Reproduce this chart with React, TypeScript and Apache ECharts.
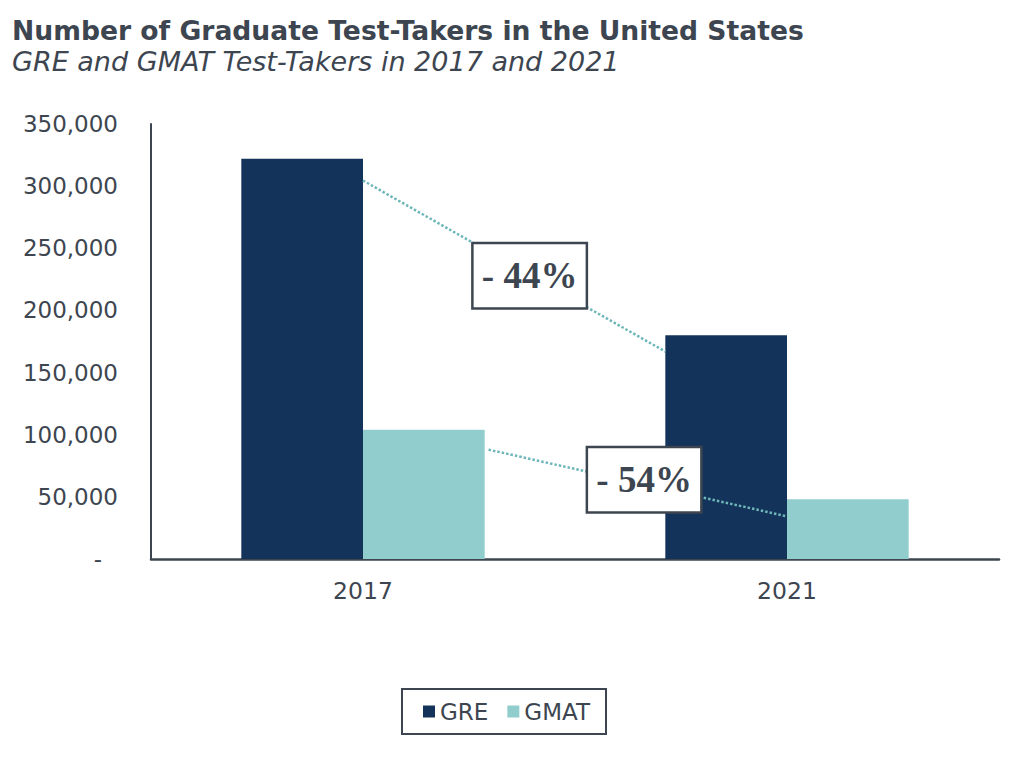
import React, { useEffect, useRef } from "react";
import * as echarts from "echarts";

// ---- Data ----
const categories = ["2017", "2021"];
const seriesNames = ["GRE", "GMAT"];
const greValues = [322000, 180000];
const gmatValues = [104000, 48000];
const changeLabels = ["- 44%", "- 54%"];
const yMin = 0;
const yMax = 350000;
const yInterval = 50000;

// connector anchor values (value-axis units, where the dotted lines meet the bars)
const greConnectorValues = [304500, 166900];
const gmatConnectorValues = [88000, 34300];
// label box anchor values (value-axis units)
const changeLabelValues = [228000, 63800];

// ---- Layout / style ----
const BAR_FRAC = 0.287; // bar width as a fraction of category band
const TEXT = "#3d4650";
const GRE_COLOR = "#14335a";
const GMAT_COLOR = "#92cdcd";
const CONNECTOR_COLOR = "#6db6b9";
const labelX = [0.893, 1.163]; // band units on hidden x-axis

export default function App() {
  const ref = useRef<HTMLDivElement>(null);

  useEffect(() => {
    if (!ref.current) return;
    const chart = echarts.init(ref.current, null, { renderer: "svg" });

    // hidden value x-axis: 0..categories.length, category i centre at i + 0.5
    const greLine = [
      [0 + 0.5, greConnectorValues[0]],
      [1 + 0.5 - BAR_FRAC, greConnectorValues[1]],
    ];
    const gmatLine = [
      [0 + 0.5 + BAR_FRAC + 0.009, gmatConnectorValues[0]],
      [1 + 0.5, gmatConnectorValues[1]],
    ];

    const option: any = {
      animation: false,
      backgroundColor: "#ffffff",
      title: [
        {
          text: "Number of Graduate Test-Takers in the United States",
          left: 12,
          top: 17,
          padding: 0,
          textStyle: {
            fontFamily: "DejaVu Sans",
            fontWeight: "bold",
            fontSize: 26.6,
            color: TEXT,
          },
        },
        {
          text: "GRE and GMAT Test-Takers in 2017 and 2021",
          left: 12,
          top: 48,
          padding: 0,
          textStyle: {
            fontFamily: "DejaVu Sans",
            fontStyle: "italic",
            fontWeight: "normal",
            fontSize: 27,
            color: TEXT,
          },
        },
      ],
      legend: {
        data: seriesNames,
        left: 402,
        top: 689,
        orient: "horizontal",
        itemWidth: 12,
        itemHeight: 12,
        itemGap: 19,
        icon: "rect",
        borderColor: TEXT,
        borderWidth: 2,
        borderRadius: 0,
        padding: [11, 16, 11, 21],
        textStyle: { fontFamily: "DejaVu Sans", fontSize: 23, color: TEXT },
      },
      grid: { left: 151, right: 25, top: 124, bottom: 199, containLabel: false },
      xAxis: [
        {
          type: "category",
          data: categories,
          axisLine: { show: true, lineStyle: { color: TEXT, width: 2.5 } },
          axisTick: { show: false },
          axisLabel: {
            fontFamily: "DejaVu Sans",
            fontSize: 23.5,
            color: TEXT,
            margin: 20,
          },
          splitLine: { show: false },
        },
        {
          type: "value",
          min: 0,
          max: categories.length,
          show: false,
          splitLine: { show: false },
        },
      ],
      yAxis: {
        type: "value",
        min: yMin,
        max: yMax,
        interval: yInterval,
        axisLine: { show: true, lineStyle: { color: TEXT, width: 2 } },
        axisTick: { show: false },
        splitLine: { show: false },
        axisLabel: {
          fontFamily: "DejaVu Sans",
          fontSize: 23,
          color: TEXT,
          margin: 33,
          formatter: (v: number) =>
            v === 0 ? "{d|-}" : v.toLocaleString("en-US"),
          rich: {
            d: {
              fontFamily: "DejaVu Sans",
              fontSize: 23,
              color: TEXT,
              padding: [0, 16, 0, 0],
            },
          },
        },
      },
      series: [
        {
          name: seriesNames[0],
          type: "bar",
          data: greValues,
          barWidth: BAR_FRAC * 100 + "%",
          barGap: "0%",
          itemStyle: { color: GRE_COLOR },
          z: 2,
        },
        {
          name: seriesNames[1],
          type: "bar",
          data: gmatValues,
          barWidth: BAR_FRAC * 100 + "%",
          barGap: "0%",
          itemStyle: { color: GMAT_COLOR },
          z: 2,
        },
        {
          type: "line",
          xAxisIndex: 1,
          data: greLine,
          symbol: "none",
          lineStyle: { color: CONNECTOR_COLOR, width: 2.5, type: [2.5, 2] },
          z: 3,
          silent: true,
        },
        {
          type: "line",
          xAxisIndex: 1,
          data: gmatLine,
          symbol: "none",
          lineStyle: { color: CONNECTOR_COLOR, width: 2.5, type: [2.5, 2] },
          z: 3,
          silent: true,
        },
        {
          type: "scatter",
          xAxisIndex: 1,
          data: changeLabelValues.map((v, i) => [labelX[i], v]),
          symbolSize: 1,
          itemStyle: { color: "#ffffff", opacity: 1 },
          z: 5,
          silent: true,
          emphasis: { disabled: true },
          label: {
            show: true,
            position: "inside",
            formatter: (p: any) => changeLabels[p.dataIndex],
            fontFamily: "Liberation Serif",
            fontWeight: "bold",
            fontSize: 37,
            color: TEXT,
            opacity: 1,
            backgroundColor: "#ffffff",
            borderColor: TEXT,
            borderWidth: 2.5,
            width: 112,
            height: 63,
            lineHeight: 63,
            align: "center",
            verticalAlign: "middle",
            padding: 0,
          },
        },
      ],
    };

    chart.setOption(option);
    return () => chart.dispose();
  }, []);

  return (
    <div
      ref={ref}
      style={{ position: "fixed", left: 0, top: 0, width: 1024, height: 758 }}
    />
  );
}
